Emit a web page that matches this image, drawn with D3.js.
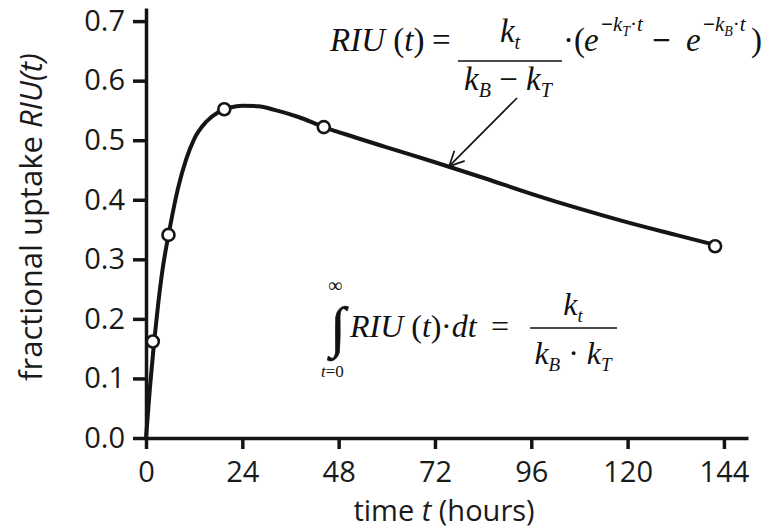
<!DOCTYPE html>
<html><head><meta charset="utf-8">
<script src="https://cdn.jsdelivr.net/npm/d3@7/dist/d3.min.js"></script>
<style>body{margin:0;background:#fff}svg{display:block}</style>
</head><body>
<svg id="c" width="767" height="530"></svg>
<script>
// ---- data ----
const xTicks = [0, 24, 48, 72, 96, 120, 144];
const yTicks = [0, 0.1, 0.2, 0.3, 0.4, 0.5, 0.6, 0.7];
const pointT = [1.7, 5.6, 19.5, 44.3, 141.8];
const pointV = [0.162, 0.341, 0.552, 0.522, 0.322];
const curveT = [0, 1, 2, 3, 4, 6, 8, 10, 12, 15, 18, 21, 24, 28, 32, 38, 44, 52, 60, 72, 84, 96, 108, 120, 132, 143];
const curveV = [0, 0.086, 0.160, 0.223, 0.277, 0.355, 0.420, 0.468, 0.502, 0.531, 0.547, 0.555, 0.558, 0.557, 0.551, 0.539, 0.523, 0.505, 0.488, 0.463, 0.437, 0.410, 0.385, 0.362, 0.341, 0.322];
const arrowT = 75.5, arrowV = 0.456;

// ---- setup ----
const svg = d3.select('#c');
svg.append('rect').attr('width', 767).attr('height', 530).attr('fill', '#fff');
const ink = '#151515';
const sans = '"Open Sans", sans-serif';
const serif = '"Liberation Serif", "Times New Roman", serif';

const x = d3.scaleLinear().domain([0, 150]).range([146, 748]);
const y = d3.scaleLinear().domain([0, 0.722]).range([438, 8]);

const xa = svg.append('g').attr('transform', 'translate(0,438)')
  .call(d3.axisBottom(x).tickValues(xTicks).tickSize(11).tickSizeOuter(0).tickPadding(12));
const ya = svg.append('g').attr('transform', 'translate(146,0)')
  .call(d3.axisLeft(y).tickValues(yTicks).tickFormat(d3.format('.1f')).tickSize(13).tickSizeOuter(0).tickPadding(8));
[xa, ya].forEach(a => {
  a.selectAll('path,line').attr('stroke', ink).attr('stroke-width', 3.5);
  a.selectAll('text').attr('font-family', sans).attr('font-size', 29).attr('fill', '#1a1a1a');
});

// axis titles
const xt = svg.append('text').attr('x', 444).attr('y', 521).attr('text-anchor', 'middle')
  .attr('font-family', sans).attr('font-size', 29).attr('fill', '#1a1a1a');
xt.append('tspan').text('time ');
xt.append('tspan').attr('font-style', 'italic').text('t');
xt.append('tspan').text(' (hours)');

const yt = svg.append('text').attr('transform', 'translate(42,217) rotate(-90)').attr('text-anchor', 'middle')
  .attr('font-family', sans).attr('font-size', 31).attr('fill', '#1a1a1a');
yt.append('tspan').text('fractional uptake ');
yt.append('tspan').attr('font-style', 'italic').text('RIU(t)');

// curve
const curve = curveT.map((t, i) => [t, curveV[i]]);
svg.append('path').datum(curve)
  .attr('d', d3.line().x(d => x(d[0])).y(d => y(d[1])).curve(d3.curveMonotoneX))
  .attr('fill', 'none').attr('stroke', ink).attr('stroke-width', 4).attr('stroke-linecap', 'round');

// points
svg.selectAll('circle.pt').data(pointT.map((t, i) => [t, pointV[i]])).enter().append('circle')
  .attr('class', 'pt').attr('cx', d => x(d[0])).attr('cy', d => y(d[1])).attr('r', 6)
  .attr('fill', '#fff').attr('stroke', ink).attr('stroke-width', 2.6);

// arrow
const ax0 = 517, ay0 = 98, ax1 = x(arrowT), ay1 = y(arrowV);
svg.append('line').attr('x1', ax0).attr('y1', ay0).attr('x2', ax1).attr('y2', ay1)
  .attr('stroke', ink).attr('stroke-width', 1.7);
const ang = Math.atan2(ay0 - ay1, ax0 - ax1);
[-0.45, 0.45].forEach(da => {
  svg.append('line').attr('x1', ax1).attr('y1', ay1)
    .attr('x2', ax1 + 16 * Math.cos(ang + da)).attr('y2', ay1 + 16 * Math.sin(ang + da))
    .attr('stroke', ink).attr('stroke-width', 1.7).attr('stroke-linecap', 'round');
});

// ---- formulas ----
const F = svg.append('g').attr('font-family', serif).attr('fill', '#111');
function t(xp, yp, size, anchor) {
  return F.append('text').attr('x', xp).attr('y', yp).attr('font-size', size).attr('text-anchor', anchor || 'start');
}
function sp(el, str, opt) {
  opt = opt || {};
  const s = el.append('tspan').text(str);
  if (opt.i) s.attr('font-style', 'italic');
  if (opt.size) s.attr('font-size', opt.size);
  if (opt.dy) s.attr('dy', opt.dy);
  if (opt.b) s.attr('font-weight', 'bold');
  return s;
}
// formula 1
const b1 = 51;
let e = t(330, b1, 33); sp(e, 'RIU', {i: 1}); sp(e, ' ('); sp(e, 't', {i: 1}); sp(e, ')');
t(432, b1, 33).text('=');
e = t(510, 42, 33, 'middle'); sp(e, 'k', {i: 1}); sp(e, 't', {i: 1, size: 20, dy: 7});
F.append('line').attr('x1', 458).attr('x2', 562).attr('y1', 61).attr('y2', 61).attr('stroke', '#111').attr('stroke-width', 1.4);
e = t(508, 90, 33, 'middle'); sp(e, 'k', {i: 1}); sp(e, 'B', {i: 1, size: 20, dy: 7}); sp(e, ' − ', {dy: -7}); sp(e, 'k', {i: 1}); sp(e, 'T', {i: 1, size: 20, dy: 7});
t(563, b1, 33).text('·(');
t(584, b1, 33).attr('font-style', 'italic').text('e');
e = t(601, 31, 21); sp(e, '−', {b: 1}); sp(e, 'k', {i: 1}); sp(e, 'T', {i: 1, size: 14, dy: 5}); sp(e, '·', {dy: -5}); sp(e, 't', {i: 1});
t(652, b1, 33).attr('font-weight', 'bold').text('−');
t(686, b1, 33).attr('font-style', 'italic').text('e');
e = t(703, 31, 21); sp(e, '−', {b: 1}); sp(e, 'k', {i: 1}); sp(e, 'B', {i: 1, size: 14, dy: 5}); sp(e, '·', {dy: -5}); sp(e, 't', {i: 1});
t(751, b1, 33).text(')');

// formula 2
t(328, 292, 20).text('∞');
t(330, 346, 56).attr('stroke', '#111').attr('stroke-width', 0.6).text('∫');
e = t(321, 377, 17); sp(e, 't', {i: 1}); sp(e, '=0');
const b2 = 337;
e = t(350, b2, 32); sp(e, 'RIU', {i: 1}); sp(e, ' ('); sp(e, 't', {i: 1}); sp(e, ')');
e = t(441, b2, 32); sp(e, '·'); sp(e, 'dt', {i: 1});
t(491, b2, 32).text('=');
e = t(573, 315, 32, 'middle'); sp(e, 'k', {i: 1}); sp(e, 't', {i: 1, size: 19, dy: 7});
F.append('line').attr('x1', 530).attr('x2', 617).attr('y1', 328).attr('y2', 328).attr('stroke', '#111').attr('stroke-width', 1.3);
e = t(573, 364, 32, 'middle'); sp(e, 'k', {i: 1}); sp(e, 'B', {i: 1, size: 19, dy: 7}); sp(e, ' · ', {dy: -7}); sp(e, 'k', {i: 1}); sp(e, 'T', {i: 1, size: 19, dy: 7});
</script>
</body></html>
